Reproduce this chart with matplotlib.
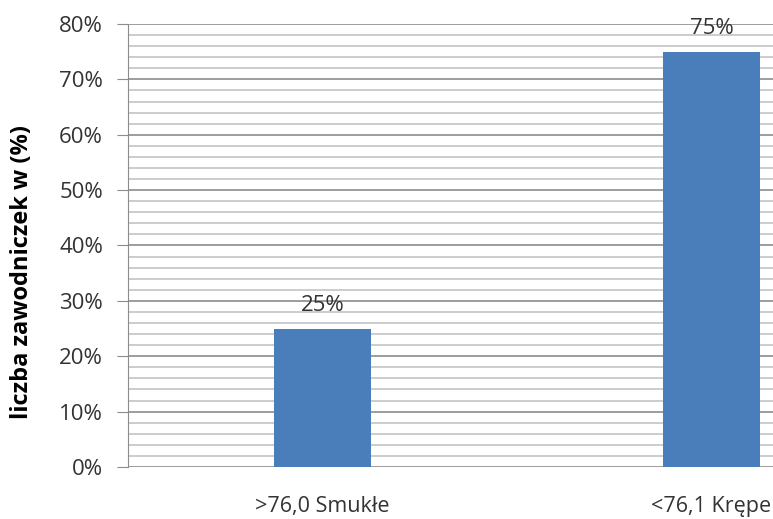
import matplotlib.pyplot as plt
from matplotlib.ticker import MultipleLocator, FuncFormatter

categories = ['>76,0 Smukłe', '<76,1 Krępe']
shares = [25, 75]

plt.rcParams['font.family'] = ['Open Sans', 'DejaVu Sans']

fig = plt.figure(figsize=(7.73, 5.19), dpi=100)
ax = fig.add_axes([0.1656, 0.1002, 0.8344, 0.8536])

x = list(range(len(categories)))
ax.bar(x, shares, width=0.25, color='#4a7ebb', zorder=3)

for xi, v in zip(x, shares):
    ax.annotate('{}%'.format(v), (xi, v), xytext=(0, 9), textcoords='offset points',
                ha='center', va='bottom', fontsize=16, color='#333333')

ax.set_ylim(0, 80)
ax.set_xlim(-0.5, 1.158)
ax.yaxis.set_major_locator(MultipleLocator(10))
ax.yaxis.set_minor_locator(MultipleLocator(2))
ax.yaxis.set_major_formatter(FuncFormatter(lambda v, p: '{:.0f}%'.format(v)))
ax.grid(axis='y', which='major', color='#8c8c8c', linewidth=1.2, zorder=0)
ax.grid(axis='y', which='minor', color='#c4c4c4', linewidth=1.2, zorder=0)

ax.set_xticks(x)
ax.set_xticklabels(categories, fontsize=15.5, color='#333333')
ax.tick_params(axis='x', length=0, pad=21)
ax.tick_params(axis='y', which='major', length=8, color='#8c8c8c', labelsize=16,
               labelcolor='#333333', pad=10)
ax.tick_params(axis='y', which='minor', length=0)

for side in ['top', 'right', 'bottom']:
    ax.spines[side].set_visible(False)
ax.spines['left'].set_color('#8c8c8c')

ax.set_ylabel('liczba zawodniczek w (%)', fontsize=17, fontweight='bold')
ax.yaxis.set_label_coords(-0.145, 0.44)

fig.savefig('out.png', dpi=100)
plt.close(fig)
